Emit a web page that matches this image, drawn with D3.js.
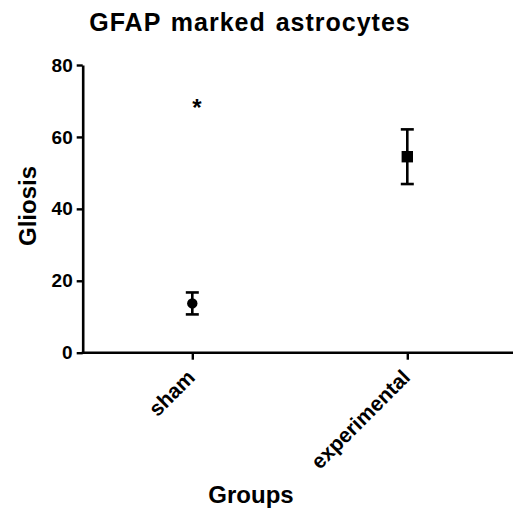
<!DOCTYPE html>
<html lang="en">
<head>
<meta charset="utf-8">
<title>GFAP marked astrocytes</title>
<script src="https://cdn.jsdelivr.net/npm/d3@7"></script>
<style>
  body { margin: 0; background: #fff; }
  text { font-family: Arial, "Liberation Sans", sans-serif; font-weight: bold; fill: #000; }
</style>
</head>
<body>
<script>

// data
var groups = ["sham", "experimental"];
var means = [13.7, 54.5];
var sems = [3.05, 7.6];
var markers = ["circle", "square"];
var yTicks = [0, 20, 40, 60, 80];
var sigLabel = "*";
var sigValue = 69;

var W = 513, H = 509;

var svg = d3.select("body").append("svg")
    .attr("width", W)
    .attr("height", H);

var x = d3.scalePoint().domain(groups).range([84.8, 514.8]).padding(0.5);
var y = d3.scaleLinear().domain([0, 80]).range([352.7, 65]);

var axisX0 = 82.7;

// y axis
var yAxis = d3.axisLeft(y).tickValues(yTicks).tickSize(6).tickSizeOuter(0).tickPadding(4);
var gy = svg.append("g").attr("transform", "translate(" + axisX0 + ",0)").call(yAxis);
gy.select(".domain").attr("stroke-width", 2.6);
gy.selectAll(".tick line").attr("stroke-width", 2.4);
gy.selectAll(".tick text").attr("font-size", 19).attr("font-family", null);

// x axis
var xAxis = d3.axisBottom(x).tickSize(7).tickSizeOuter(0).tickFormat("");
var gx = svg.append("g").attr("transform", "translate(0," + y(0) + ")").call(xAxis);
gx.select(".domain").attr("d", "M" + (axisX0 - 1) + ",0H" + W).attr("stroke-width", 2.6);
gx.selectAll(".tick line").attr("stroke-width", 2.4);

// rotated group labels
svg.selectAll(".glabel")
  .data(groups)
  .enter().append("text")
    .attr("class", "glabel")
    .attr("text-anchor", "end")
    .attr("font-size", 21)
    .attr("transform", function(d) { return "translate(" + (x(d) + 4) + "," + (y(0) + 26) + ") rotate(-45)"; })
    .text(function(d) { return d; });

// error bars
var eb = svg.selectAll(".eb")
  .data(groups)
  .enter().append("g")
    .attr("class", "eb")
    .attr("stroke", "#000")
    .attr("stroke-width", 2.6);

eb.append("line")
  .attr("x1", function(d) { return x(d); })
  .attr("x2", function(d) { return x(d); })
  .attr("y1", function(d, i) { return y(means[i] + sems[i]); })
  .attr("y2", function(d, i) { return y(means[i] - sems[i]); });

eb.append("line")
  .attr("x1", function(d) { return x(d) - 6.5; })
  .attr("x2", function(d) { return x(d) + 6.5; })
  .attr("y1", function(d, i) { return y(means[i] + sems[i]); })
  .attr("y2", function(d, i) { return y(means[i] + sems[i]); });

eb.append("line")
  .attr("x1", function(d) { return x(d) - 6.5; })
  .attr("x2", function(d) { return x(d) + 6.5; })
  .attr("y1", function(d, i) { return y(means[i] - sems[i]); })
  .attr("y2", function(d, i) { return y(means[i] - sems[i]); });

// markers
var sym = { circle: d3.symbolCircle, square: d3.symbolSquare };
svg.selectAll(".mk")
  .data(groups)
  .enter().append("path")
    .attr("class", "mk")
    .attr("fill", "#000")
    .attr("transform", function(d, i) { return "translate(" + x(d) + "," + y(means[i]) + ")"; })
    .attr("d", function(d, i) { return d3.symbol().type(sym[markers[i]]).size(markers[i] == "circle" ? 85 : 130)(); });

// significance mark
svg.append("text")
  .attr("x", x(groups[0]) + 4.5)
  .attr("y", y(sigValue) + 11)
  .attr("text-anchor", "middle")
  .attr("font-size", 24)
  .text(sigLabel);

// title and axis titles
svg.append("text")
  .attr("x", 250)
  .attr("y", 30.5)
  .attr("text-anchor", "middle")
  .attr("font-size", 25)
  .attr("letter-spacing", 1)
  .attr("word-spacing", 2)
  .text("GFAP marked astrocytes");

svg.append("text")
  .attr("transform", "translate(36,206) rotate(-90)")
  .attr("text-anchor", "middle")
  .attr("font-size", 24)
  .text("Gliosis");

svg.append("text")
  .attr("x", 251)
  .attr("y", 503)
  .attr("text-anchor", "middle")
  .attr("font-size", 24)
  .text("Groups");

</script>
</body>
</html>
